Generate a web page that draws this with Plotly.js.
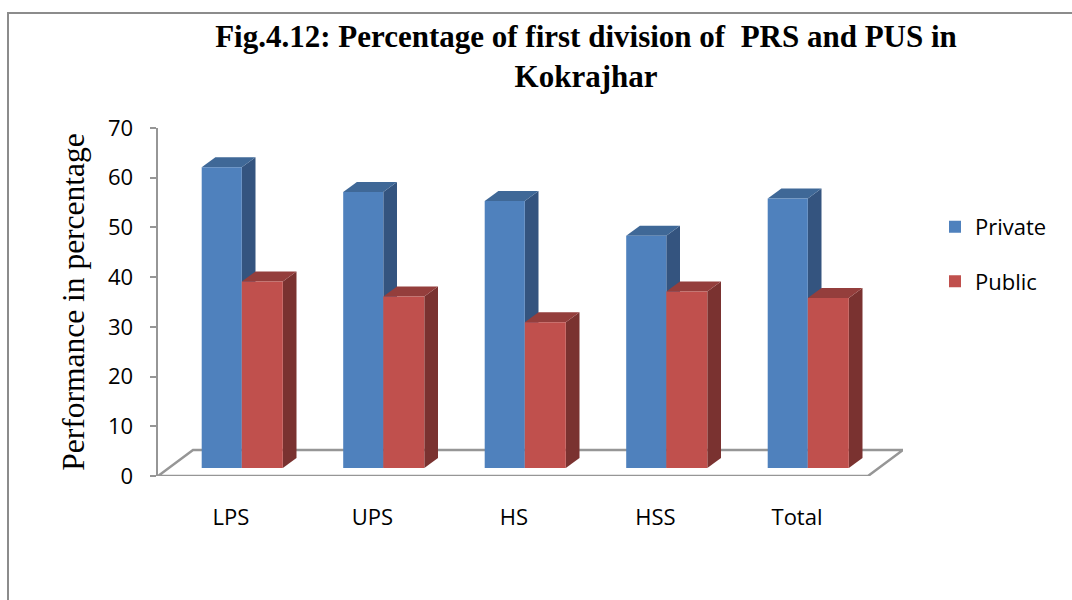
<!DOCTYPE html>
<html>
<head>
<meta charset="utf-8">
<script src="https://cdn.plot.ly/plotly-3.0.1.min.js"></script>
<style>
  html, body { margin: 0; padding: 0; background: #ffffff; }
  #wrap { position: relative; width: 1072px; height: 600px; overflow: hidden; }
  #chart { width: 1072px; height: 600px; }
  #frame { position: absolute; left: 7px; top: 12px; width: 1100px; height: 620px;
           border-left: 2px solid #8c8c8c; border-top: 2px solid #8c8c8c; pointer-events: none; }
</style>
</head>
<body>
<div id="wrap">
  <div id="chart"></div>
  <div id="frame"></div>
</div>
<script>
// ---- data ----
const categories = ['LPS', 'UPS', 'HS', 'HSS', 'Total'];
const seriesNames = ['Private', 'Public'];
const privateValues = [60.5, 55.5, 53.7, 46.7, 54.2];
const publicValues = [37.5, 34.5, 29.3, 35.5, 34.2];
const yTickValues = [0, 10, 20, 30, 40, 50, 60, 70];

// ---- geometry (pixels) ----
const W = 1072, H = 600;
const plotLeft = 158, plotRight = 903, plotTop = 128.3, plotBottom = 475.7;
const catSpacingPx = 141.5;           // px per category
const firstCenterPx = 241.8;          // px of category 0 group centre
const yMax = 70;
const pxPerY = (plotBottom - plotTop) / yMax;
const barLiftPx = 8;                  // bars stand a bit behind the front floor edge
const labelShiftPx = 10.8;            // tick labels sit on the front plane
const barDepth = {dx: 13.7, dy: 10};  // bar 3D depth
const floorDepth = {dx: 35, dy: 26};  // floor 3D depth
const floorFrontRightPx = 868;

const xL = -(firstCenterPx - plotLeft) / catSpacingPx;
const xR = (plotRight - firstCenterPx) / catSpacingPx;
const xIdx = categories.map((c, i) => i);
const uX = px => px / catSpacingPx;
const uY = px => px / pxPerY;

const barW1 = uX(40.1), barW2 = uX(41);
const series = [
  {name: seriesNames[0], vals: privateValues, offset: -barW1, width: barW1,
   front: '#4F81BD', top: '#3F6897', side: '#34547F'},
  {name: seriesNames[1], vals: publicValues, offset: 0, width: barW2,
   front: '#C0504D', top: '#943E3C', side: '#7A3230'}
];

const traces = series.map((s, k) => ({
  type: 'bar',
  name: s.name,
  x: xIdx,
  y: s.vals,
  xaxis: 'x', yaxis: 'y2',
  offset: s.offset,
  width: s.width,
  marker: {color: s.front, line: {width: 0}},
  legendgroup: 'g' + k,
  hoverinfo: 'skip'
}));

// ---- shapes: floor + 3D faces ----
const shapes = [];
const fx0 = xL, fx1 = xL + uX(floorFrontRightPx - plotLeft);
const fdx = uX(floorDepth.dx), fdy = uY(floorDepth.dy);
shapes.push({
  type: 'path', xref: 'x', yref: 'y', layer: 'below',
  path: `M${fx0},0 L${fx1},0 L${fx1 + fdx},${fdy} L${fx0 + fdx},${fdy} Z`,
  line: {color: '#969696', width: 2.5}, fillcolor: 'rgba(0,0,0,0)'
});
const bdx = uX(barDepth.dx), bdy = uY(barDepth.dy);
series.forEach(s => {
  s.vals.forEach((v, i) => {
    const xl = xIdx[i] + s.offset, xr = xl + s.width;
    shapes.push({
      type: 'path', xref: 'x', yref: 'y2', layer: 'below',
      path: `M${xr},0 L${xr},${v} L${xr + bdx},${v + bdy} L${xr + bdx},${bdy} Z`,
      fillcolor: s.side, line: {width: 0}
    });
    shapes.push({
      type: 'path', xref: 'x', yref: 'y2', layer: 'below',
      path: `M${xl},${v} L${xr},${v} L${xr + bdx},${v + bdy} L${xl + bdx},${v + bdy} Z`,
      fillcolor: s.top, line: {width: 0}
    });
  });
});

const lift = uY(barLiftPx);
const labShift = uX(labelShiftPx);

const layout = {
  width: W, height: H,
  margin: {l: plotLeft, r: W - plotRight, t: plotTop, b: H - plotBottom, pad: 0},
  paper_bgcolor: '#ffffff', plot_bgcolor: 'rgba(0,0,0,0)',
  showlegend: true,
  font: {family: '"Open Sans", sans-serif', size: 22, color: '#000000'},
  title: {
    text: 'Fig.4.12: Percentage of first division of \u00A0PRS and PUS in<br>Kokrajhar',
    font: {family: '"Liberation Serif", "Times New Roman", serif', size: 31, color: '#000000', weight: 'bold'},
    xref: 'container', yref: 'container', x: 586 / W, xanchor: 'center',
    y: 1 - 47 / H, yanchor: 'top'
  },
  xaxis: {
    range: [xL, xR], showticklabels: false, showgrid: false, zeroline: false,
    showline: false, ticks: '', fixedrange: true
  },
  xaxis2: {
    overlaying: 'x', anchor: 'y', side: 'bottom',
    range: [xL + labShift, xR + labShift],
    tickmode: 'array', tickvals: xIdx, ticktext: categories,
    showgrid: false, zeroline: false, showline: false, ticks: '',
    ticklabelstandoff: 26,
    tickfont: {family: '"Open Sans", sans-serif', size: 22, color: '#000000'},
    fixedrange: true
  },
  yaxis: {
    range: [0, yMax], tickmode: 'array', tickvals: yTickValues,
    showgrid: false, zeroline: false,
    showline: true, linecolor: '#969696', linewidth: 2.5,
    ticks: 'outside', ticklen: 6, tickwidth: 2, tickcolor: '#969696',
    ticklabelstandoff: 12,
    tickfont: {family: '"Open Sans", sans-serif', size: 22, color: '#000000'},
    title: {text: 'Performance in percentage', standoff: 14,
            font: {family: '"Liberation Serif", "Times New Roman", serif', size: 31.5, color: '#000000'}},
    fixedrange: true
  },
  yaxis2: {
    overlaying: 'y', range: [-lift, yMax - lift], visible: false, fixedrange: true
  },
  legend: {
    x: (935 - plotLeft) / (plotRight - plotLeft), xanchor: 'left',
    y: (plotBottom - 206) / (plotBottom - plotTop), yanchor: 'top',
    traceorder: 'grouped', tracegroupgap: 23,
    font: {family: '"Open Sans", sans-serif', size: 22, color: '#000000'},
    bgcolor: 'rgba(0,0,0,0)'
  },
  shapes: shapes
};

// invisible helper trace so the label axis (x2) is bound to data
traces.push({type: 'scatter', x: [0], y: [0], xaxis: 'x2', yaxis: 'y', mode: 'markers',
  marker: {opacity: 0}, showlegend: false, hoverinfo: 'skip'});

Plotly.newPlot('chart', traces, layout, {staticPlot: true, displayModeBar: false});
</script>
</body>
</html>
